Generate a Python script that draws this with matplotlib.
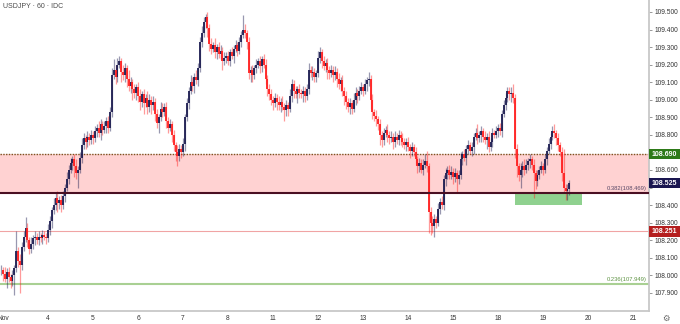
import matplotlib
matplotlib.use("Agg")
import matplotlib.pyplot as plt
import matplotlib.transforms as mtrans
from matplotlib.patches import Rectangle
import numpy as np

TITLE = "USDJPY · 60 · IDC"

# hourly closes, first bar sits one hour before the "Nov" day mark
first_hour = -1
closes = [
    108.03, 108.01, 107.98, 108.02, 107.99, 107.97, 108.00, 108.04, 108.14, 108.08, 108.06, 108.16,
    108.22, 108.27, 108.20, 108.15, 108.18, 108.21, 108.22, 108.20, 108.22, 108.21, 108.23, 108.22,
    108.21, 108.26, 108.31, 108.37, 108.40, 108.44, 108.41, 108.43, 108.40, 108.45, 108.50, 108.55,
    108.60, 108.64, 108.66, 108.62, 108.58, 108.60, 108.67, 108.74, 108.78, 108.76, 108.79, 108.77,
    108.80, 108.78, 108.82, 108.84, 108.81, 108.86, 108.83, 108.85, 108.88, 108.84, 108.93, 109.14,
    109.17, 109.13, 109.20, 109.22, 109.16, 109.14, 109.18, 109.12, 109.08, 109.10, 109.06, 109.04,
    109.07, 109.02, 108.99, 109.03, 108.98, 109.01, 108.96, 109.00, 108.97, 108.99, 108.92, 108.87,
    108.90, 108.95, 108.93, 108.96, 108.88, 108.84, 108.86, 108.80, 108.74, 108.70, 108.68, 108.72,
    108.70, 108.75, 108.90, 108.98, 109.05, 109.10, 109.08, 109.13, 109.11, 109.18, 109.33, 109.38,
    109.44, 109.47, 109.41, 109.32, 109.29, 109.31, 109.27, 109.30, 109.26, 109.28, 109.22, 109.24,
    109.25, 109.22, 109.27, 109.25, 109.29, 109.31, 109.28, 109.33, 109.37, 109.40, 109.38, 109.33,
    109.15, 109.17, 109.14, 109.18, 109.20, 109.22, 109.19, 109.23, 109.20, 109.12, 109.06, 109.03,
    109.00, 108.98, 109.01, 108.99, 108.97, 108.99, 108.96, 108.94, 108.97, 108.95, 109.02, 109.09,
    109.05, 109.03, 109.06, 109.04, 109.03, 109.05, 109.02, 109.06, 109.17, 109.15, 109.16, 109.13,
    109.15, 109.24, 109.27, 109.22, 109.19, 109.21, 109.17, 109.15, 109.17, 109.14, 109.16, 109.12,
    109.09, 109.11, 109.05, 109.02, 108.99, 108.96, 108.98, 108.95, 109.00, 109.04, 109.02, 109.05,
    109.07, 109.05, 109.09, 109.11, 109.12, 109.00, 108.93, 108.91, 108.89, 108.86, 108.80, 108.77,
    108.81, 108.83, 108.80, 108.78, 108.79, 108.76, 108.79, 108.77, 108.80, 108.78, 108.76, 108.74,
    108.76, 108.73, 108.71, 108.73, 108.70, 108.66, 108.62, 108.64, 108.60, 108.63, 108.65, 108.62,
    108.36, 108.30, 108.28, 108.32, 108.30, 108.38, 108.42, 108.40, 108.55, 108.58, 108.60, 108.57,
    108.59, 108.56, 108.58, 108.55, 108.57, 108.66, 108.69, 108.67, 108.72, 108.74, 108.71, 108.73,
    108.79, 108.81, 108.78, 108.80, 108.82, 108.79, 108.77, 108.79, 108.73, 108.76, 108.81, 108.80,
    108.82, 108.84, 108.82, 108.92, 108.97, 109.01, 109.05, 109.03, 109.04, 109.01, 108.72, 108.62,
    108.57, 108.60, 108.62, 108.60, 108.63, 108.65, 108.66, 108.63, 108.58, 108.54, 108.57, 108.60,
    108.62, 108.60, 108.66, 108.71, 108.75, 108.79, 108.82, 108.81, 108.78, 108.74, 108.70, 108.58,
    108.50, 108.48, 108.49, 108.525,
]

# wick lengths above / below the body, in pips
wick_up = [
    3, 2, 4, 2, 3, 2, 3, 2, 11, 2, 4, 3, 3, 6, 3, 2, 4, 2, 3, 2, 3, 2, 3, 2,
    2, 3, 3, 2, 4, 3, 4, 2, 3, 3, 2, 4, 3, 3, 2, 3, 4, 2, 3, 4, 3, 2, 3, 2,
    3, 2, 3, 2, 4, 3, 2, 3, 2, 3, 3, 4, 6, 3, 4, 3, 2, 4, 3, 2, 5, 3, 2, 3,
    2, 3, 4, 2, 3, 2, 4, 3, 2, 3, 2, 3, 2, 4, 3, 2, 3, 2, 3, 2, 3, 2, 4, 3,
    2, 3, 2, 3, 2, 4, 3, 2, 4, 3, 3, 4, 3, 2, 3, 2, 3, 2, 4, 2, 3, 3, 2, 3,
    2, 3, 2, 3, 2, 3, 2, 3, 2, 8, 3, 2, 3, 2, 3, 2, 3, 2, 3, 2, 3, 3, 2, 3,
    3, 2, 3, 2, 3, 2, 3, 2, 3, 2, 4, 3, 2, 3, 2, 3, 2, 3, 2, 3, 4, 2, 3, 2,
    2, 4, 3, 2, 3, 2, 3, 2, 3, 2, 3, 2, 3, 2, 3, 2, 3, 2, 3, 2, 4, 3, 2, 3,
    3, 2, 3, 2, 4, 2, 3, 2, 3, 2, 3, 2, 3, 2, 3, 2, 3, 2, 3, 2, 3, 2, 3, 2,
    2, 3, 2, 3, 2, 3, 2, 3, 2, 3, 4, 6, 2, 3, 4, 3, 2, 3, 2, 3, 2, 3, 2, 3,
    3, 2, 3, 2, 3, 4, 2, 3, 2, 3, 2, 3, 2, 3, 5, 2, 3, 2, 3, 2, 3, 2, 3, 2,
    3, 2, 3, 2, 3, 3, 2, 2, 3, 5, 2, 3, 2, 4, 3, 4, 3, 2, 3, 2, 3, 2, 3, 2,
    3, 2, 3, 2, 3, 2, 3, 4, 2, 3, 2, 3, 14, 2, 3, 2,
]
wick_dn = [
    3, 4, 2, 5, 3, 4, 3, 11, 2, 3, 16, 3, 2, 3, 4, 3, 2, 3, 4, 2, 3, 2, 3, 2,
    3, 2, 3, 4, 2, 3, 5, 3, 4, 2, 3, 2, 3, 2, 4, 6, 3, 8, 2, 3, 2, 4, 3, 3,
    2, 3, 2, 3, 2, 4, 3, 2, 4, 3, 2, 3, 2, 4, 3, 2, 6, 3, 4, 5, 3, 4, 6, 3,
    4, 3, 5, 3, 6, 2, 4, 3, 5, 3, 4, 3, 6, 2, 3, 2, 4, 3, 2, 4, 3, 5, 6, 3,
    3, 2, 4, 2, 3, 2, 3, 4, 2, 3, 2, 3, 2, 3, 5, 4, 3, 2, 3, 4, 2, 3, 5, 2,
    3, 2, 3, 2, 4, 2, 3, 2, 3, 2, 3, 4, 3, 5, 4, 2, 3, 2, 4, 3, 2, 3, 4, 3,
    3, 4, 2, 5, 3, 4, 2, 6, 3, 4, 2, 3, 4, 2, 5, 3, 2, 4, 3, 2, 3, 2, 4, 3,
    3, 2, 3, 4, 2, 3, 5, 3, 2, 4, 3, 5, 3, 4, 3, 5, 4, 3, 4, 3, 2, 3, 4, 2,
    2, 3, 2, 4, 3, 5, 4, 3, 4, 3, 6, 4, 3, 2, 4, 3, 2, 4, 3, 2, 3, 4, 3, 2,
    3, 2, 4, 3, 2, 3, 4, 3, 2, 3, 2, 3, 12, 7, 4, 6, 3, 2, 3, 2, 3, 4, 3, 2,
    2, 4, 3, 8, 3, 2, 3, 2, 4, 3, 2, 3, 4, 2, 3, 2, 4, 3, 2, 5, 3, 2, 3, 2,
    2, 3, 2, 3, 2, 3, 2, 3, 4, 3, 5, 6, 3, 7, 4, 3, 2, 3, 4, 3, 14, 5, 3, 2,
    2, 3, 2, 3, 2, 3, 2, 3, 4, 3, 2, 4, 3, 5, 5, 3,
]

day_hours = [0, 24, 48, 72, 96, 120, 144, 168, 192, 216, 240, 264, 288, 312, 336]
day_labels = ["Nov", "4", "5", "6", "7", "8", "11", "12", "13", "14", "15", "18", "19", "20", "21"]
price_ticks = [107.9, 108.0, 108.1, 108.2, 108.3, 108.4, 108.5, 108.6, 108.7,
               108.8, 108.9, 109.0, 109.1, 109.2, 109.3, 109.4, 109.5]

zone_top = 108.690
fib_382 = 108.469
fib_236 = 107.949
support = 108.251
last_price = 108.525
box_hours = [273, 309]
box_low = 108.40

NAVY = "#1c1c50"
RED = "#ff1f1f"
FONT = "Liberation Sans"

fig = plt.figure(figsize=(6.8, 3.24), dpi=100)
fig.patch.set_facecolor("white")
ax = fig.add_axes([0, 13 / 324, 649 / 680, 311 / 324])
ax.set_xlim(-1.6, 344.5)
ax.set_ylim(107.797, 109.568)

# shaded zone and levels
ax.axhspan(fib_382, zone_top, color="#ffd2d2", zorder=0, lw=0)
ax.add_patch(Rectangle((box_hours[0], box_low), box_hours[1] - box_hours[0], fib_382 - box_low,
                       facecolor="#8fd18f", edgecolor="none", zorder=0.5))
ax.axhline(zone_top, color="#7a5420", lw=1.0, ls=(0, (1, 1)), zorder=1)
ax.axhline(support, color="#f0a4a4", lw=0.8, zorder=1)
ax.axhline(fib_236, color="#a9d093", lw=1.5, zorder=1)

# candles
c = np.array(closes)
o = np.r_[c[0], c[:-1]]
hours = np.arange(len(c)) + first_hour
hi = np.maximum(o, c) + np.array(wick_up) / 100
lo = np.minimum(o, c) - np.array(wick_dn) / 100
up = c >= o
dn = ~up
ax.vlines(hours[up], lo[up], hi[up], color=NAVY, alpha=0.45, lw=0.9, zorder=2)
ax.vlines(hours[dn], lo[dn], hi[dn], color=RED, alpha=0.45, lw=0.9, zorder=2)
ax.vlines(hours[up], o[up], c[up], color=NAVY, lw=1.3, zorder=3)
ax.vlines(hours[dn], o[dn], c[dn], color=RED, lw=1.3, zorder=3)

ax.axhline(fib_382, color="#4a0f22", lw=1.5, zorder=4)

ax.text(343, fib_382 + 0.012, "0.382(108.469)", ha="right", va="bottom",
        fontsize=4.2, family=FONT, color="#5b4a68", zorder=5)
ax.text(343, fib_236 + 0.012, "0.236(107.949)", ha="right", va="bottom",
        fontsize=4.2, family=FONT, color="#5f9444", zorder=5)

# axes styling
for side in ["top", "left"]:
    ax.spines[side].set_visible(False)
for side in ["right", "bottom"]:
    ax.spines[side].set_color("#c8c8c8")
    ax.spines[side].set_linewidth(1.3)

# labels under the price tags are hidden, as on the reference
hidden = {108.5, 108.7}
ax.yaxis.tick_right()
ax.set_yticks(price_ticks)
ax.set_yticklabels(["" if p in hidden else f"{p:.3f}" for p in price_ticks])
ax.tick_params(axis="y", length=2.2, width=0.6, color="#888888", pad=1.5,
               labelsize=4.8, labelcolor="#333333")
ax.set_xticks(day_hours)
ax.set_xticklabels(day_labels)
ax.tick_params(axis="x", length=0, pad=3, labelsize=4.8, labelcolor="#333333")
for lab in ax.get_xticklabels() + ax.get_yticklabels():
    lab.set_family(FONT)

# price tags on the right scale
tag_tr = mtrans.blended_transform_factory(ax.transAxes, ax.transData)
tag_h = 10.6 / 175.6
for price, bg in [(zone_top, "#2d7a18"), (last_price, "#1a1650"), (support, "#b51f1f")]:
    ax.add_patch(Rectangle((1.0, price - tag_h / 2), 31 / 649, tag_h, transform=tag_tr,
                           facecolor=bg, edgecolor="none", clip_on=False, zorder=6))
    ax.text(1.0 + 15.5 / 649, price, f"{price:.3f}", transform=tag_tr, ha="center",
            va="center", fontsize=5, family=FONT, fontweight="bold", color="white",
            clip_on=False, zorder=7)

fig.text(3 / 680, 1 - 7 / 324, TITLE, ha="left", va="center", fontsize=5,
         family=FONT, color="#4a4a4a")
fig.text(666 / 680, 1 - 318 / 324, "⚙", ha="center", va="center", fontsize=6,
         family="DejaVu Sans", color="#666666")

fig.savefig("out.png", dpi=100, facecolor="white")
